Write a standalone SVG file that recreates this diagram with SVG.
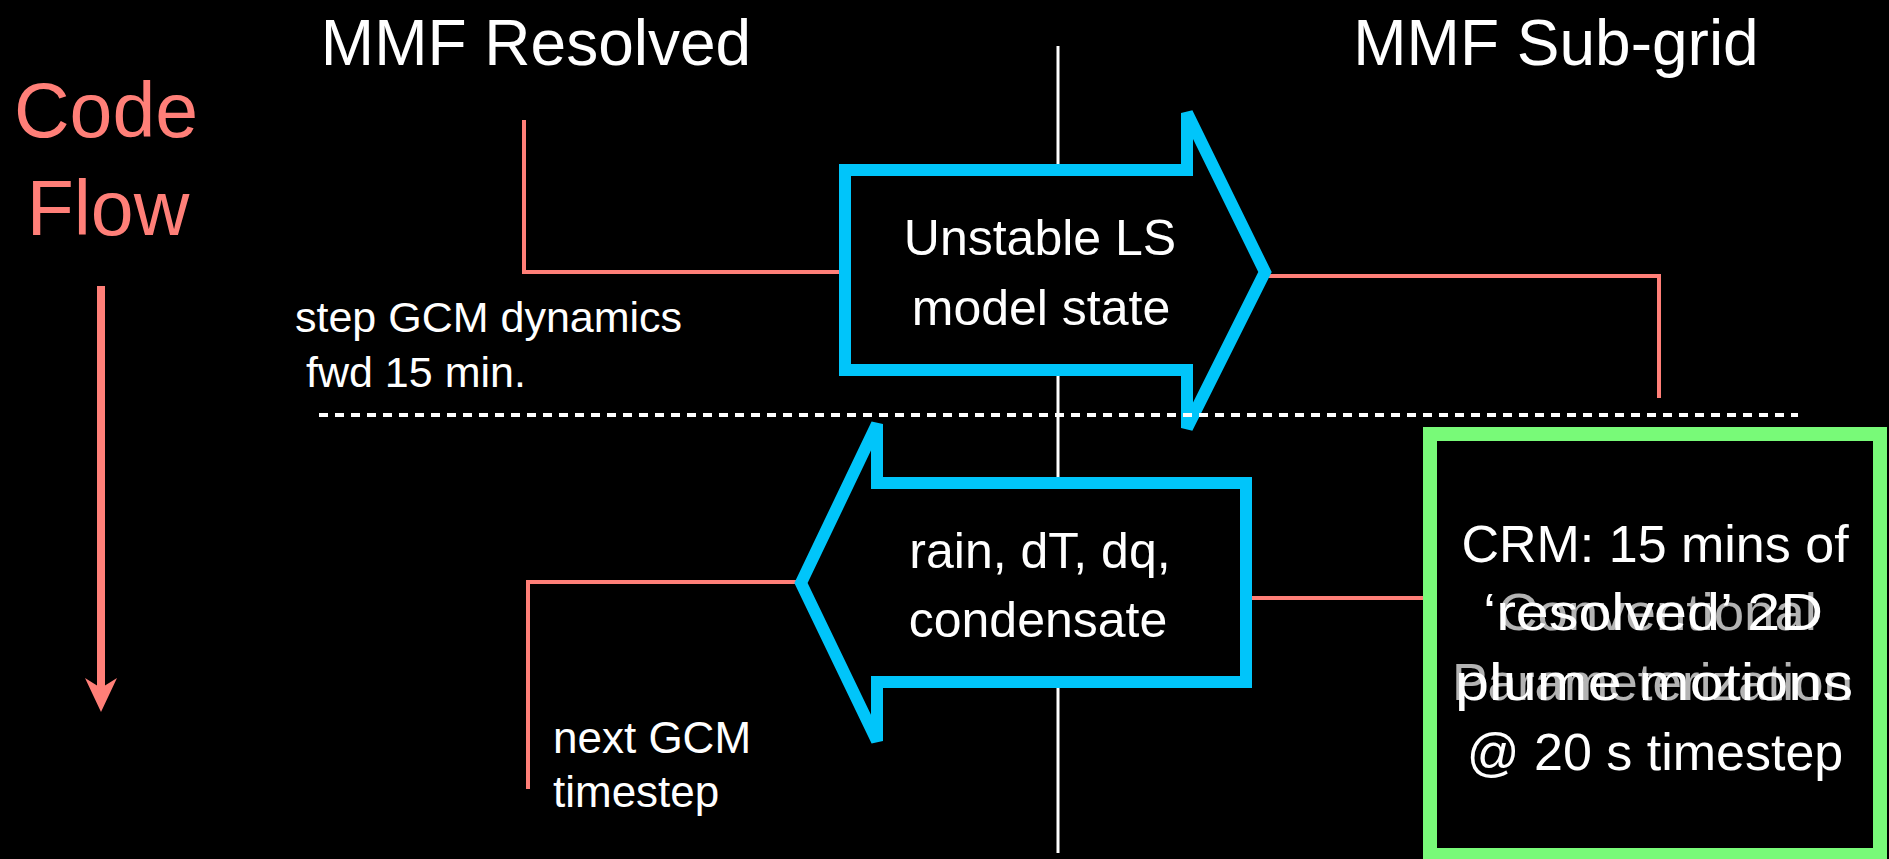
<svg xmlns="http://www.w3.org/2000/svg" width="1889" height="859" viewBox="0 0 1889 859">
  <defs>
    <style>
      .t { font-family: "Liberation Sans", Arial, sans-serif; fill: #ffffff; }
      .red { fill: none; stroke: #FF7F78; stroke-width: 4; }
      .blue { fill: #000000; stroke: #00C5FA; stroke-width: 12; stroke-linejoin: miter; }
      .ghost { fill-opacity: 0.7; }
    </style>
  </defs>
  <rect x="0" y="0" width="1889" height="859" fill="#000000"/>

  <!-- headings -->
  <g id="heading-resolved"><text class="t" x="536" y="65" font-size="64" text-anchor="middle">MMF Resolved</text></g>
  <g id="heading-subgrid"><text class="t" x="1556" y="65" font-size="64" text-anchor="middle">MMF Sub-grid</text></g>

  <!-- code flow -->
  <g id="code-flow">
    <text x="106" y="137" font-size="77" text-anchor="middle" style="font-family:'Liberation Sans',Arial,sans-serif;fill:#FF7F78">Code</text>
    <text x="108" y="235" font-size="77" text-anchor="middle" style="font-family:'Liberation Sans',Arial,sans-serif;fill:#FF7F78">Flow</text>
    <line x1="101" y1="286" x2="101" y2="692" stroke="#FF7F78" stroke-width="8"/>
    <polygon points="101,712 85,678 101,688 117,678" fill="#FF7F78"/>
  </g>

  <!-- divider -->
  <g id="divider">
    <line x1="1058" y1="46" x2="1058" y2="853" stroke="#ffffff" stroke-width="3"/>
  </g>

  <!-- connectors -->
  <g id="connectors">
    <path class="red" d="M524,120 V272 H845"/>
    <path class="red" d="M1265,276 H1659 V398"/>
    <path class="red" d="M1250,598 H1423"/>
    <path class="red" d="M801,582 H528 V789"/>
  </g>

  <!-- labels -->
  <g id="label-step">
    <text class="t" x="295" y="332" font-size="43">step GCM dynamics</text>
    <text class="t" x="306" y="387" font-size="43">fwd 15 min.</text>
  </g>
  <g id="label-next">
    <text class="t" x="553" y="753" font-size="44">next GCM</text>
    <text class="t" x="553" y="807" font-size="44">timestep</text>
  </g>

  <!-- upper arrow -->
  <g id="arrow-unstable">
    <path class="blue" d="M845,170 H1187 V113 L1265,272 L1187,428 V370 H845 Z"/>
    <text class="t" x="1040" y="255" font-size="50" text-anchor="middle">Unstable LS</text>
    <text class="t" x="1041" y="325" font-size="50" text-anchor="middle">model state</text>
  </g>

  <!-- lower arrow -->
  <g id="arrow-tendencies">
    <path class="blue" d="M1246,483 H877 V424 L801,583 L877,741 V682 H1246 Z"/>
    <text class="t" x="1040" y="568" font-size="50" text-anchor="middle">rain, dT, dq,</text>
    <text class="t" x="1038" y="637" font-size="50" text-anchor="middle">condensate</text>
  </g>

  <!-- dashed separator -->
  <g id="separator">
    <line x1="319" y1="415" x2="1798" y2="415" stroke="#ffffff" stroke-width="4" stroke-dasharray="9 7"/>
  </g>

  <!-- CRM box -->
  <g id="crm-box">
    <rect x="1430" y="434" width="450" height="421" fill="#000000" stroke="#78FA78" stroke-width="14"/>
    <text class="t" x="1655" y="562" font-size="52" text-anchor="middle">CRM: 15 mins of</text>
    <text class="t ghost" x="1498" y="630" font-size="52" textLength="319" lengthAdjust="spacingAndGlyphs">Conventional</text>
    <text class="t" x="1483" y="630" font-size="52" textLength="340" lengthAdjust="spacingAndGlyphs">‘resolved’ 2D</text>
    <text class="t ghost" x="1452" y="700" font-size="52" textLength="401" lengthAdjust="spacingAndGlyphs">Parameterization</text>
    <text class="t" x="1455" y="700" font-size="52" textLength="398" lengthAdjust="spacingAndGlyphs">plume motions</text>
    <text class="t" x="1655" y="770" font-size="52" text-anchor="middle">@ 20 s timestep</text>
  </g>
</svg>
